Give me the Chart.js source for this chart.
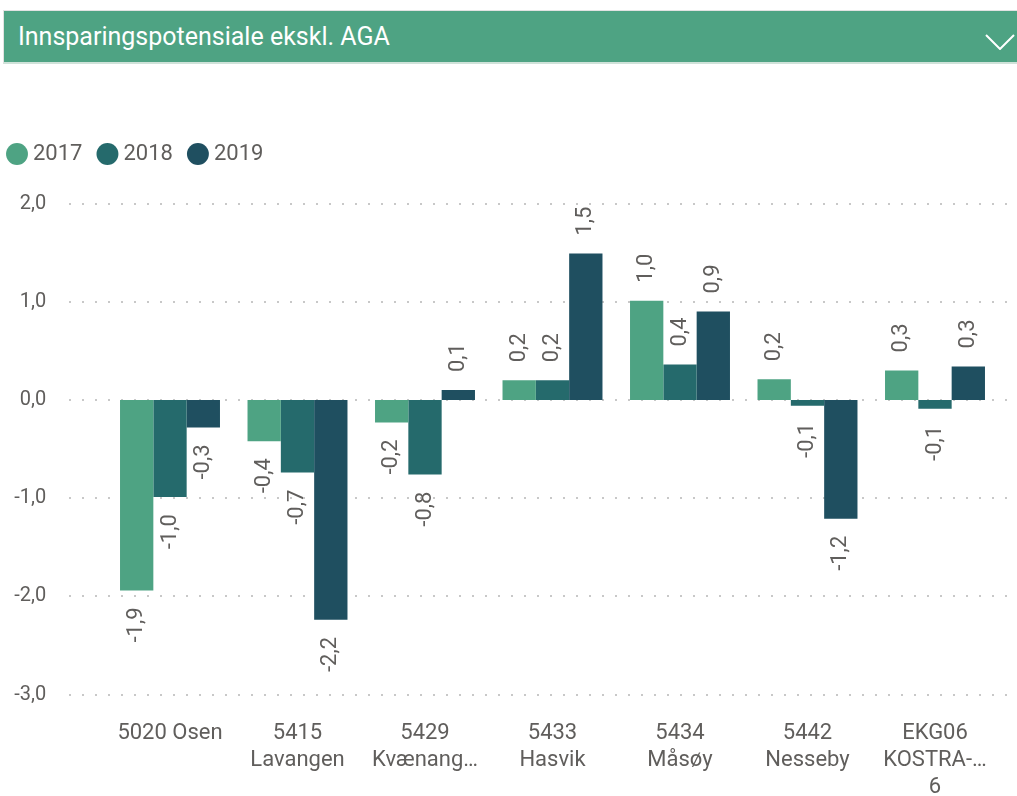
<!DOCTYPE html>
<html><head><meta charset="utf-8">
<script src="https://cdn.jsdelivr.net/npm/chart.js@4.4.1/dist/chart.umd.min.js"></script>
<style>
html,body{margin:0;padding:0;background:#fff;overflow:hidden;}
#wrap{position:relative;width:1017px;height:796px;overflow:hidden;}
#c{position:absolute;left:0;top:0;}
#hdr{position:absolute;left:3px;top:10px;width:1030px;height:51px;background:#4EA383;border-top:1.5px solid #e2e2e2;border-left:1.5px solid #e2e2e2;border-bottom:2px solid #cfe2d9;z-index:2;}
#hdr .t{position:absolute;left:14px;top:0;font:25px Roboto,sans-serif;line-height:51px;color:#fff;white-space:nowrap;}
#hdr svg{position:absolute;left:981px;top:23px;}
</style></head>
<body><div id="wrap">
<div id="hdr"><div class="t">Innsparingspotensiale ekskl. AGA</div>
<svg width="30" height="16" viewBox="0 0 30 16"><polyline points="1,1 15,15 29,1" fill="none" stroke="#fff" stroke-width="2"/></svg></div>
<canvas id="c" width="1017" height="796"></canvas>
</div>
<script>
const categories = [['5020 Osen'], ['5415','Lavangen'], ['5429','Kvænang…'], ['5433','Hasvik'], ['5434','Måsøy'], ['5442','Nesseby'], ['EKG06','KOSTRA-…','6']];
const seriesNames = ['2017','2018','2019'];
const values2017 = [-1.94, -0.42, -0.23, 0.20, 1.01, 0.21, 0.30];
const values2018 = [-0.99, -0.74, -0.76, 0.20, 0.36, -0.06, -0.09];
const values2019 = [-0.28, -2.24, 0.10, 1.49, 0.90, -1.21, 0.34];
const seriesColors = ['#4EA383', '#256A6C', '#1F4F60'];
const yMin = -3, yMax = 2, yStep = 1;

const textColor = '#605E5C';
const fmt = v => (Math.round(v * 10) / 10).toFixed(1).replace('.', ',');

const gridPlugin = {
  id: 'dotGrid',
  beforeDatasetsDraw(chart) {
    const ys = chart.scales.y, ctx = chart.ctx;
    ctx.save();
    ctx.strokeStyle = '#c8c8c8';
    ctx.lineWidth = 2;
    ctx.setLineDash([2, 11]);
    ys.ticks.forEach(t => {
      const py = Math.round(ys.getPixelForValue(t.value));
      ctx.beginPath();
      ctx.moveTo(69, py);
      ctx.lineTo(1014, py);
      ctx.stroke();
    });
    ctx.restore();
  }
};

const labelPlugin = {
  id: 'barLabels',
  afterDatasetsDraw(chart) {
    const ctx = chart.ctx;
    ctx.save();
    ctx.font = '22px Roboto, sans-serif';
    ctx.fillStyle = textColor;
    ctx.textBaseline = 'middle';
    chart.data.datasets.forEach((ds, di) => {
      const meta = chart.getDatasetMeta(di);
      meta.data.forEach((el, i) => {
        const v = ds.data[i];
        ctx.save();
        ctx.translate(el.x, el.y);
        ctx.rotate(-Math.PI / 2);
        if (v >= 0) { ctx.textAlign = 'left'; ctx.fillText(fmt(v), 18, 0); }
        else { ctx.textAlign = 'right'; ctx.fillText(fmt(v), -17, 0); }
        ctx.restore();
      });
    });
    ctx.restore();
  }
};

const legendShift = {
  id: 'legendShift',
  afterLayout(chart) {
    if (chart.legend) { chart.legend.left -= 8; chart.legend.right -= 8; }
  }
};

new Chart(document.getElementById('c'), {
  type: 'bar',
  data: {
    labels: categories,
    datasets: [
      { label: seriesNames[0], data: values2017, backgroundColor: seriesColors[0] },
      { label: seriesNames[1], data: values2018, backgroundColor: seriesColors[1] },
      { label: seriesNames[2], data: values2019, backgroundColor: seriesColors[2] }
    ]
  },
  options: {
    responsive: false,
    animation: false,
    devicePixelRatio: 1,
    layout: { padding: { top: 123, left: 0, right: 18.25, bottom: 0 } },
    datasets: { bar: { categoryPercentage: 0.784, barPercentage: 1.0, borderWidth: 0 } },
    plugins: {
      legend: {
        display: true, position: 'top', align: 'start', weight: 1000,
        labels: {
          usePointStyle: true, pointStyle: 'circle',
          boxWidth: 10, boxHeight: 15.5, padding: 20,
          color: textColor, font: { family: 'Roboto, sans-serif', size: 22 }
        }
      },
      title: { display: true, text: '', weight: 500, position: 'top', font: { size: 10, lineHeight: 1 }, padding: { top: 9, bottom: 9.5 } },
      tooltip: { enabled: false }
    },
    scales: {
      x: {
        grid: { display: false, drawTicks: false },
        border: { display: false },
        ticks: {
          color: textColor, font: { family: 'Roboto, sans-serif', size: 22, lineHeight: 1.22 },
          maxRotation: 0, minRotation: 0, autoSkip: false, padding: 26
        },
        afterFit(s) { s.height = 101.5; }
      },
      y: {
        min: yMin, max: yMax,
        grid: { display: false, drawTicks: false },
        border: { display: false },
        ticks: {
          stepSize: yStep, color: textColor, padding: 60,
          font: { family: 'Roboto, sans-serif', size: 20 },
          callback: v => fmt(v)
        },
        afterFit(s) { s.width = 106.25; }
      }
    }
  },
  plugins: [gridPlugin, labelPlugin, legendShift]
});
</script>
</body></html>
